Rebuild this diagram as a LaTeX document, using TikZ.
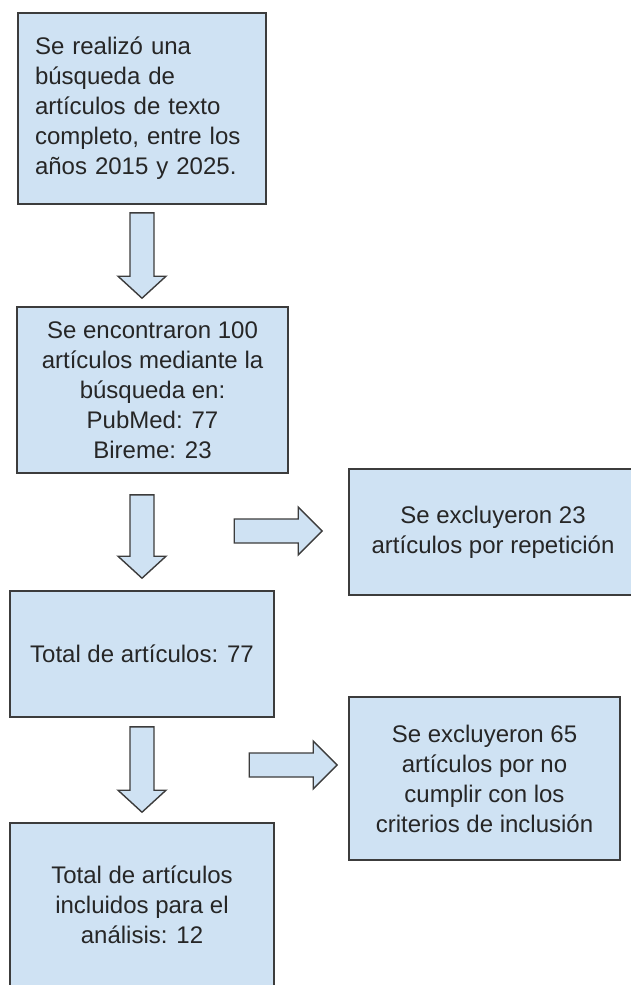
\documentclass[tikz,border=0pt]{standalone}
\usepackage{fontspec}
\setmainfont{Liberation Sans}
\usepackage{tikz}
\usetikzlibrary{calc}

\definecolor{cajaazul}{HTML}{CFE2F3}
\definecolor{bordegris}{HTML}{3C3C3C}
\definecolor{textogris}{HTML}{262626}

% flecha ancha vertical: #1 = inicio, #2 = punta
\newcommand{\flechav}[2]{%
	\draw[flecha] let \p1=(#1), \p2=(#2) in
		(\x1-6pt,\y1) -- (\x1+6pt,\y1) -- (\x1+6pt,\y2+11pt) -- (\x1+12pt,\y2+11pt)
		-- (\x1,\y2) -- (\x1-12pt,\y2+11pt) -- (\x1-6pt,\y2+11pt) -- cycle;}
% flecha ancha horizontal: #1 = inicio, #2 = punta
\newcommand{\flechah}[2]{%
	\draw[flecha] let \p1=(#1), \p2=(#2) in
		(\x1,\y1+6pt) -- (\x2-12pt,\y1+6pt) -- (\x2-12pt,\y1+12pt) -- (\x2,\y1)
		-- (\x2-12pt,\y1-12pt) -- (\x2-12pt,\y1-6pt) -- (\x1,\y1-6pt) -- cycle;}

\begin{document}
\begin{tikzpicture}[x=0.5pt,y=-0.5pt,
		caja/.style={shape=rectangle,draw=bordegris,fill=cajaazul,line width=0.8pt,
			text=textogris,align=center,inner sep=0pt,
			font=\fontsize{12}{15}\selectfont},
		flecha/.style={draw=bordegris,fill=cajaazul,line width=0.7pt,line join=miter}]
	\useasboundingbox (0,0) rectangle (631,985);
	
	\node[caja,minimum width=124pt,minimum height=95.5pt,text width=107pt,align=left] (busqueda) at (142,108.5)
		{Se realizó una\\búsqueda de\\artículos de texto\\completo, entre los\\años 2015 y 2025.};
	\node[caja,minimum width=135.5pt,minimum height=83pt] (encontrados) at (152.5,390)
		{Se encontraron 100\\artículos mediante la\\búsqueda en:\\PubMed: 77\\Bireme: 23};
	\node[caja,minimum width=132pt,minimum height=63pt] (total) at (142,654)
		{Total de artículos: 77};
	\node[caja,minimum width=132pt,minimum height=82pt] (incluidos) at (142,905)
		{Total de artículos\\incluidos para el\\análisis: 12};
	\node[caja,minimum width=144pt,minimum height=63pt] (repeticion) at (493,532)
		{Se excluyeron 23\\artículos por repetición};
	\node[caja,minimum width=135.5pt,minimum height=81.5pt] (criterios) at (484.5,778.5)
		{Se excluyeron 65\\artículos por no\\cumplir con los\\criterios de inclusión};
	
	\flechav{$(busqueda.south)+(0,8)$}{$(encontrados.north -| busqueda.south)+(0,-8)$}
	\flechav{$(encontrados.south -| total.north)+(0,21)$}{$(total.north)+(0,-12)$}
	\flechav{$(total.south)+(0,9)$}{$(incluidos.north)+(0,-10)$}
	\flechah{$(repeticion.west)+(-114,-1)$}{$(repeticion.west)+(-26,-1)$}
	\flechah{$(criterios.west)+(-99,-13.5)$}{$(criterios.west)+(-11,-13.5)$}
\end{tikzpicture}
\end{document}
